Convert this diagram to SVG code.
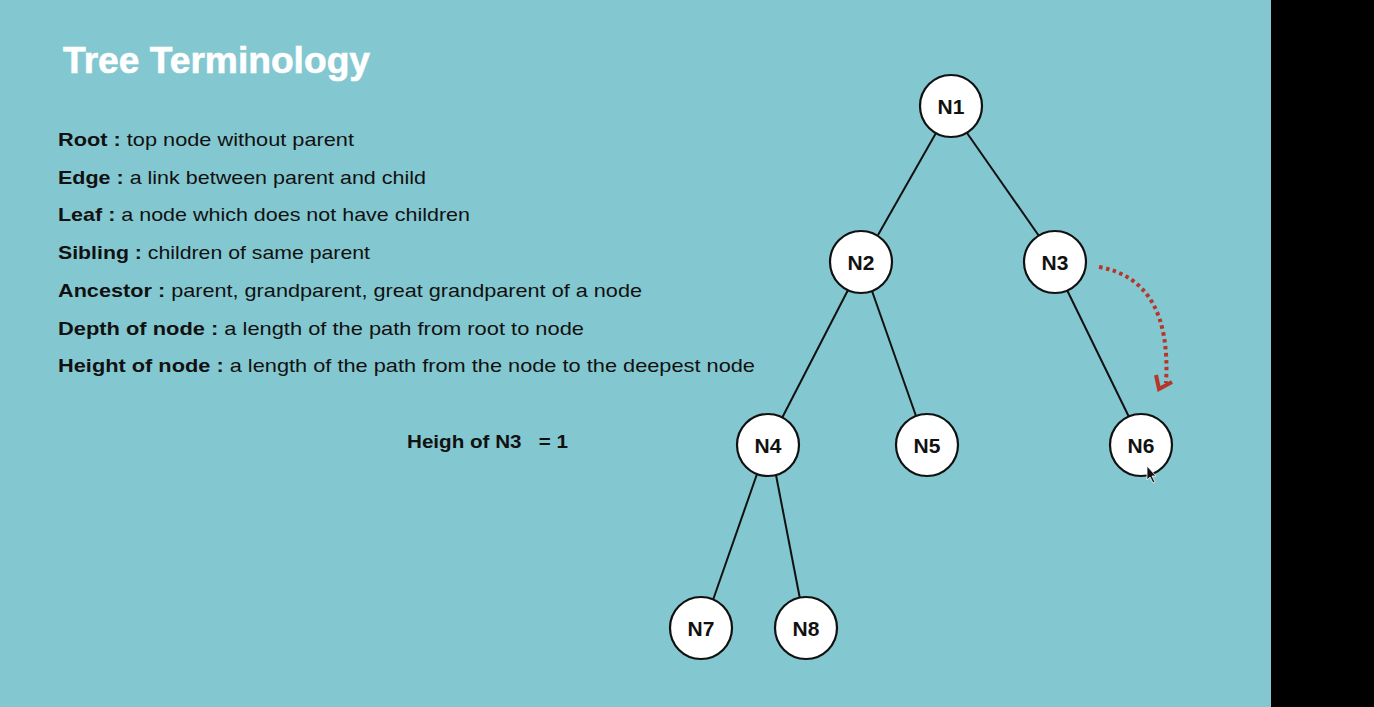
<svg xmlns="http://www.w3.org/2000/svg" width="1374" height="707" viewBox="0 0 1374 707">
  <style>
    .title { font-family: "Liberation Sans", Arial, sans-serif; font-weight: bold; font-size: 36px; fill: #ffffff; }
    .def { font-family: "Liberation Sans", Arial, sans-serif; font-size: 19px; fill: #111111; }
    .def .term { font-weight: bold; }
    .note { font-family: "Liberation Sans", Arial, sans-serif; font-weight: bold; font-size: 19px; fill: #111111; }
    .node circle { fill: #ffffff; stroke: #111111; stroke-width: 2.2; }
    .node text { font-family: "Liberation Sans", Arial, sans-serif; font-weight: bold; font-size: 21px; fill: #111111; text-anchor: middle; }
    .edges line { stroke: #111111; stroke-width: 2; }
    .hint { fill: none; stroke: #b7352a; stroke-width: 4; }
  </style>

  <!-- slide background and dark right margin -->
  <rect x="0" y="0" width="1374" height="707" fill="#83c8d0"/>
  <rect x="1271" y="0" width="103" height="707" fill="#000000"/>

  <text class="title" x="63" y="73" textLength="307" lengthAdjust="spacingAndGlyphs" stroke="#ffffff" stroke-width="0.6">Tree Terminology</text>

  <!-- definitions -->
  <g id="definitions" xml:space="preserve">
    <text class="def" x="58" y="146" textLength="296" lengthAdjust="spacingAndGlyphs"><tspan class="term">Root :</tspan> top node without parent</text>
    <text class="def" x="58" y="184" textLength="368" lengthAdjust="spacingAndGlyphs"><tspan class="term">Edge :</tspan> a link between parent and child</text>
    <text class="def" x="58" y="221" textLength="412" lengthAdjust="spacingAndGlyphs"><tspan class="term">Leaf :</tspan> a node which does not have children</text>
    <text class="def" x="58" y="259" textLength="312" lengthAdjust="spacingAndGlyphs"><tspan class="term">Sibling :</tspan> children of same parent</text>
    <text class="def" x="58" y="297" textLength="584" lengthAdjust="spacingAndGlyphs"><tspan class="term">Ancestor :</tspan>  parent, grandparent, great grandparent of a node</text>
    <text class="def" x="58" y="335" textLength="526" lengthAdjust="spacingAndGlyphs"><tspan class="term">Depth of node :</tspan>  a length of the path from root to node</text>
    <text class="def" x="58" y="372" textLength="697" lengthAdjust="spacingAndGlyphs"><tspan class="term">Height of node :</tspan>  a length of the path from the node to the deepest node</text>
  </g>

  <text class="note" x="407" y="448" textLength="161" lengthAdjust="spacingAndGlyphs" xml:space="preserve">Heigh of N3   = 1</text>

  <!-- tree edges -->
  <g id="connectors" class="edges">
    <line x1="936" y1="133" x2="878" y2="235"/>
    <line x1="967" y1="133" x2="1039" y2="236"/>
    <line x1="848" y1="290" x2="782" y2="418"/>
    <line x1="872" y1="291" x2="916" y2="416"/>
    <line x1="1067" y1="290" x2="1129" y2="417"/>
    <line x1="757" y1="474" x2="713" y2="600"/>
    <line x1="776" y1="475" x2="800" y2="599"/>
    <!-- dotted arc from N3 down to N6 -->
    <path class="hint" d="M1099,267 Q1172,280 1166,383" stroke-dasharray="3.5 3.5"/>
    <path class="hint" d="M1156,375 L1159,389 L1172,382" stroke-width="3.5" stroke-linejoin="miter"/>
  </g>

  <!-- nodes -->
  <g id="N1" class="node"><circle cx="951" cy="106" r="31"/><text x="951" y="114">N1</text></g>
  <g id="N2" class="node"><circle cx="861" cy="262" r="31"/><text x="861" y="270">N2</text></g>
  <g id="N3" class="node"><circle cx="1055" cy="262" r="31"/><text x="1055" y="270">N3</text></g>
  <g id="N4" class="node"><circle cx="768" cy="445" r="31"/><text x="768" y="453">N4</text></g>
  <g id="N5" class="node"><circle cx="927" cy="445" r="31"/><text x="927" y="453">N5</text></g>
  <g id="N6" class="node"><circle cx="1141" cy="445" r="31"/><text x="1141" y="453">N6</text></g>
  <g id="N7" class="node"><circle cx="701" cy="628" r="31"/><text x="701" y="636">N7</text></g>
  <g id="N8" class="node"><circle cx="806" cy="628" r="31"/><text x="806" y="636">N8</text></g>

  <!-- pointer -->
  <path d="M1147,466 L1147,480 L1150,477 L1153,483 L1155,482 L1152,476 L1156,476 Z" fill="#111111" stroke="#ffffff" stroke-width="0.8"/>
</svg>
